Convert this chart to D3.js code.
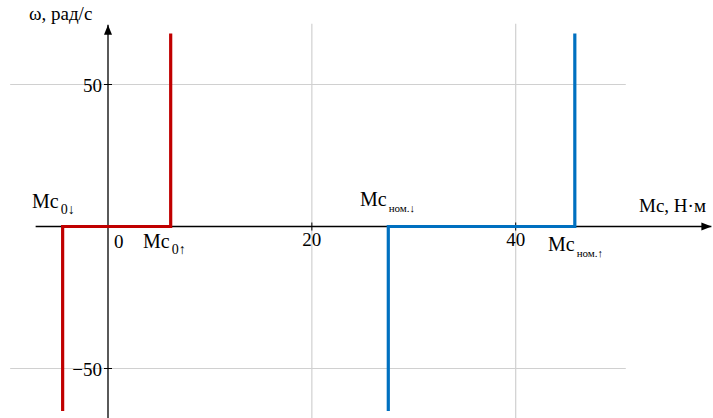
<!DOCTYPE html>
<html>
<head>
<meta charset="utf-8">
<script src="https://cdn.jsdelivr.net/npm/d3@7"></script>
<style>
  body { margin: 0; background: #fff; }
</style>
</head>
<body>
<div id="chart-area"></div>
<script>
// characteristic of the static load torque: red = Mc0, blue = Mc nominal
const redX = [-4.45, -4.45, 6.15, 6.15];
const redY = [-65, 0, 0, 68];
const blueX = [27.5, 27.5, 45.8, 45.8];
const blueY = [-65, 0, 0, 68];

const xTicks = [20, 40];
const yTicks = [50, -50];
const xTickLabels = ["20", "40"];
const yTickLabels = ["50", "\u221250"];

const width = 713;
const height = 418;

const x = d3.scaleLinear().domain([0, 40]).range([108, 515.7]);
const y = d3.scaleLinear().domain([-50, 50]).range([368.5, 84.5]);

const svg = d3.select("#chart-area")
    .append("svg")
    .attr("width", width)
    .attr("height", height)
    .attr("font-family", "'Liberation Serif', 'DejaVu Serif', serif");

// arrow marker for axes
svg.append("defs")
    .append("marker")
    .attr("id", "arrow")
    .attr("viewBox", "0 -5 10 10")
    .attr("refX", 10)
    .attr("refY", 0)
    .attr("markerWidth", 10)
    .attr("markerHeight", 10)
    .attr("markerUnits", "userSpaceOnUse")
    .attr("orient", "auto")
    .append("path")
    .attr("d", "M0,-4L10,0L0,4Z")
    .attr("fill", "#000");

// grid lines
svg.selectAll("line.hgrid")
    .data(yTicks)
    .enter()
    .append("line")
    .attr("class", "hgrid")
    .attr("x1", x(-9.6)).attr("x2", x(50.8))
    .attr("y1", d => y(d)).attr("y2", d => y(d))
    .attr("stroke", "#d0d0d0")
    .attr("stroke-width", 1.2);

svg.selectAll("line.vgrid")
    .data(xTicks)
    .enter()
    .append("line")
    .attr("class", "vgrid")
    .attr("x1", d => x(d)).attr("x2", d => x(d))
    .attr("y1", y(71.4)).attr("y2", height)
    .attr("stroke", "#d0d0d0")
    .attr("stroke-width", 1.2);

// axes
svg.append("line")
    .attr("x1", x(-7.1)).attr("x2", x(59.2))
    .attr("y1", y(0)).attr("y2", y(0))
    .attr("stroke", "#000").attr("stroke-width", 1.3)
    .attr("marker-end", "url(#arrow)");

svg.append("line")
    .attr("x1", x(0)).attr("x2", x(0))
    .attr("y1", height).attr("y2", y(71))
    .attr("stroke", "#000").attr("stroke-width", 1.3)
    .attr("marker-end", "url(#arrow)");

// small ticks
svg.selectAll("line.ytick")
    .data(yTicks)
    .enter()
    .append("line")
    .attr("class", "ytick")
    .attr("x1", x(0) - 4).attr("x2", x(0) + 4)
    .attr("y1", d => y(d)).attr("y2", d => y(d))
    .attr("stroke", "#000").attr("stroke-width", 1);

svg.selectAll("line.xtick")
    .data(xTicks)
    .enter()
    .append("line")
    .attr("class", "xtick")
    .attr("x1", d => x(d)).attr("x2", d => x(d))
    .attr("y1", y(0) - 4).attr("y2", y(0) + 4)
    .attr("stroke", "#000").attr("stroke-width", 1);

// tick labels
svg.selectAll("text.ylab")
    .data(yTicks)
    .enter()
    .append("text")
    .attr("class", "ylab")
    .attr("x", x(0) - 6)
    .attr("y", d => y(d) + 7)
    .attr("text-anchor", "end")
    .style("font-size", "19px")
    .text((d, i) => yTickLabels[i]);

svg.selectAll("text.xlab")
    .data(xTicks)
    .enter()
    .append("text")
    .attr("class", "xlab")
    .attr("x", d => x(d))
    .attr("y", y(0) + 19)
    .attr("text-anchor", "middle")
    .style("font-size", "19px")
    .text((d, i) => xTickLabels[i]);

svg.append("text")
    .attr("x", x(0) + 6)
    .attr("y", y(0) + 21)
    .style("font-size", "19px")
    .text("0");

// characteristic lines
const line = d3.line()
    .x(d => x(d[0]))
    .y(d => y(d[1]));

svg.append("path")
    .datum(redX.map((v, i) => [v, redY[i]]))
    .attr("d", line)
    .attr("fill", "none")
    .attr("stroke", "#c00000")
    .attr("stroke-width", 3.2);

svg.append("path")
    .datum(blueX.map((v, i) => [v, blueY[i]]))
    .attr("d", line)
    .attr("fill", "none")
    .attr("stroke", "#0070c0")
    .attr("stroke-width", 3.2);

// axis titles
svg.append("text")
    .attr("x", 29).attr("y", 20)
    .style("font-size", "19px")
    .text("\u03c9, \u0440\u0430\u0434/\u0441");

svg.append("text")
    .attr("x", 639).attr("y", 212)
    .style("font-size", "19px")
    .text("Mc, \u041d\u00b7\u043c");

// annotation labels with subscripts
function subLabel(px, py, sub, subSize) {
    const t = svg.append("text")
        .attr("x", px).attr("y", py)
        .style("font-size", "20px");
    t.append("tspan").text("Mc");
    t.append("tspan")
        .attr("dx", 2)
        .attr("dy", 6)
        .style("font-size", subSize + "px")
        .text(sub);
}

subLabel(32, 208, "0\u2193", 14);
subLabel(143, 248, "0\u2191", 14);
subLabel(360, 206, "\u043d\u043e\u043c.\u2193", 11);
subLabel(548, 251, "\u043d\u043e\u043c.\u2191", 11);
</script>
</body>
</html>
